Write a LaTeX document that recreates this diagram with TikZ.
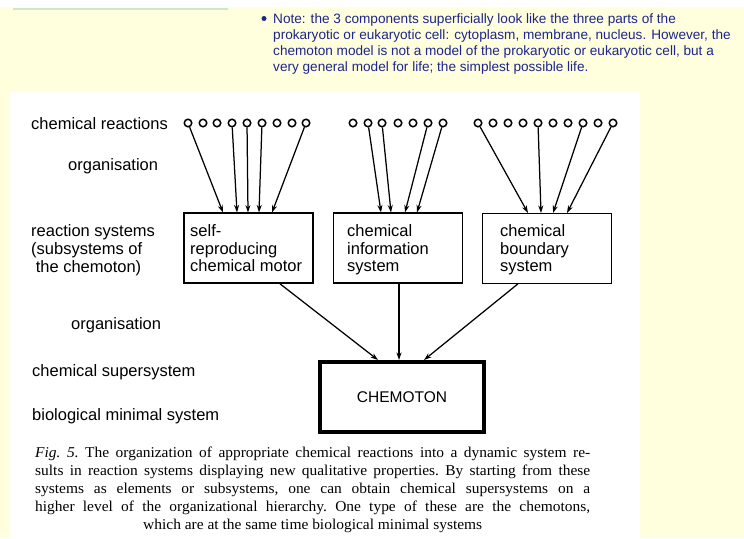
\documentclass[tikz,border=0pt]{standalone}
\usepackage{fontspec}
\setmainfont{Liberation Sans}
\newfontfamily\capfont[FakeStretch=1.03]{Liberation Serif}
\usetikzlibrary{arrows.meta}
\definecolor{bgyellow}{RGB}{255,255,221}
\definecolor{notecol}{RGB}{28,38,140}
\definecolor{rulegreen}{RGB}{204,232,204}
\begin{document}
\begin{tikzpicture}[x=1pt,y=-1pt,
  lab/.style={anchor=base west, inner sep=0pt, align=left, font=\fontsize{16.5}{18}\selectfont},
  boxtxt/.style={anchor=base west, inner sep=0pt, align=left, font=\fontsize{16.5}{17.5}\selectfont},
  sysbox/.style={draw, line width=1.6pt, minimum width=129pt, minimum height=70pt, inner sep=0pt},
  rc/.style={circle, draw, line width=1.5pt, minimum size=7.5pt, inner sep=0pt},
  arr/.style={-{Stealth[length=7.5pt,width=5pt]}, line width=1.25pt}
]
\useasboundingbox (0,0) rectangle (744,538);
\fill[white] (0,0) rectangle (744,538);
\fill[bgyellow] (0,7) rectangle (744,538);
\fill[rulegreen] (13,8) rectangle (228,10);
\fill[white] (10,92) rectangle (640,538);

% note (base anchor = last line)
\node[circle, fill=notecol, inner sep=0pt, minimum size=5pt] (bul) at (264,18.5) {};
\node[anchor=base west, inner sep=0pt, align=left, text=notecol, font=\fontsize{13.6}{16}\selectfont] (note) at (273,71)
 {Note: the 3 components superficially look like the three parts of the\\
  prokaryotic or eukaryotic cell: cytoplasm, membrane, nucleus. However, the\\
  chemoton model is not a model of the prokaryotic or eukaryotic cell, but a\\
  very general model for life; the simplest possible life.};

% left labels
\node[lab] (l1) at (31,129.5) {chemical reactions};
\node[lab] (l2) at (68,170.5) {organisation};
\node[lab] (l3) at (31,272.5) {reaction systems\\(subsystems of\\\ the chemoton)};
\node[lab] (l4) at (71,329.5) {organisation};
\node[lab] (l5) at (32,376.5) {chemical supersystem};
\node[lab] (l6) at (32,420) {biological minimal system};

% reaction circles
\foreach \x [count=\i] in {188,203,217,232,247,262,277,292,306}
  \node[rc] (a\i) at (\x,123) {};
\foreach \x [count=\i] in {353,368,382,398,413,428,443}
  \node[rc] (b\i) at (\x,123) {};
\foreach \x [count=\i] in {478,493,508,523,538,553,568,583,598,613}
  \node[rc] (c\i) at (\x,123) {};

% subsystem boxes
\node[sysbox] (s1) at (248.5,248) {};
\node[sysbox] (s2) at (398,248) {};
\node[sysbox] (s3) at (547,248.5) {};
\node[boxtxt] (t1) at (190,271.5) {self-\\reproducing\\chemical motor};
\node[boxtxt] (t2) at (347,271.5) {chemical\\information\\system};
\node[boxtxt] (t3) at (500,271.5) {chemical\\boundary\\system};

% arrow ends on box tops
\coordinate (e1) at (223,212.5);
\coordinate (e2) at (237,212.5);
\coordinate (e3) at (248,212.5);
\coordinate (e4) at (259,212.5);
\coordinate (e5) at (272,212.5);
\coordinate (f1) at (381,212.5);
\coordinate (f2) at (391,212.5);
\coordinate (f3) at (405,212.5);
\coordinate (f4) at (417,212.5);
\coordinate (g1) at (528,213);
\coordinate (g2) at (541,213);
\coordinate (g3) at (553,213);
\coordinate (g4) at (567,213);

\draw[arr] (a1) -- (e1);
\draw[arr] (a4) -- (e2);
\draw[arr] (a5) -- (e3);
\draw[arr] (a6) -- (e4);
\draw[arr] (a9) -- (e5);
\draw[arr] (b2) -- (f1);
\draw[arr] (b3) -- (f2);
\draw[arr] (b6) -- (f3);
\draw[arr] (b7) -- (f4);
\draw[arr] (c1) -- (g1);
\draw[arr] (c5) -- (g2);
\draw[arr] (c8) -- (g3);
\draw[arr] (c10) -- (g4);

% chemoton
\node[draw, line width=4pt, minimum width=164pt, minimum height=70pt, inner sep=0pt,
      font=\fontsize{15.5}{18}\selectfont] (ch) at (402,397) {CHEMOTON};
\coordinate (h1s) at (280,283.8);
\coordinate (h2s) at (399,283.8);
\coordinate (h3s) at (518,283.8);
\coordinate (h1) at (378,360);
\coordinate (h2) at (399,360);
\coordinate (h3) at (424,360);
\draw[arr] (h1s) -- (h1);
\draw[arr] (h2s) -- (h2);
\draw[arr] (h3s) -- (h3);

% caption
\node[anchor=base west, inner sep=0pt] (cap) at (35,457) {\parbox[t]{555pt}{\capfont\fontsize{15}{18}\selectfont\frenchspacing
\makebox[555pt][s]{\textit{Fig. 5.} The organization of appropriate chemical reactions into a dynamic system re-}\\
\makebox[555pt][s]{sults in reaction systems displaying new qualitative properties. By starting from these}\\
\makebox[555pt][s]{systems as elements or subsystems, one can obtain chemical supersystems on a}\\
\makebox[555pt][s]{higher level of the organizational hierarchy. One type of these are the chemotons,}\\
\makebox[555pt]{which are at the same time biological minimal systems}}};
\end{tikzpicture}
\end{document}
